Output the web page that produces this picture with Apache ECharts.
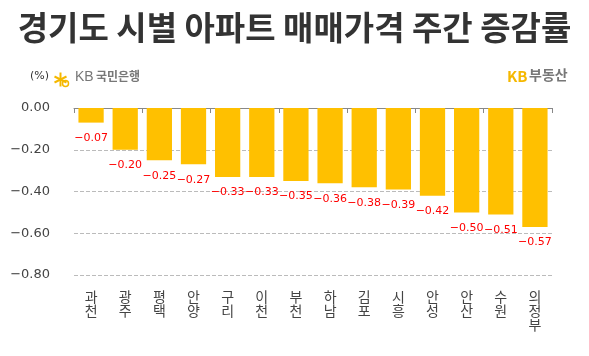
<!DOCTYPE html>
<html><head><meta charset="utf-8">
<script src="https://cdn.jsdelivr.net/npm/echarts@6/dist/echarts.min.js"></script>
<style>html,body{margin:0;padding:0;background:#fff}#c{width:589px;height:356px}</style>
</head><body><div id="c"></div>
<script>
var categories = ['과천','광주','평택','안양','구리','이천','부천','하남','김포','시흥','안성','안산','수원','의정부'];
var values = [-0.07,-0.20,-0.25,-0.27,-0.33,-0.33,-0.35,-0.36,-0.38,-0.39,-0.42,-0.50,-0.51,-0.57];
var yTicks = [0, -0.2, -0.4, -0.6, -0.8];
function fmt(v){ return v.toFixed(2).replace('-', '\u2212'); }
var chart = echarts.init(document.getElementById('c'), null, {renderer:'canvas'});
chart.setOption({
  animation:false,
  title:{text:'경기도 시별 아파트 매매가격 주간 증감률', left:'center', top:6,
    textStyle:{fontFamily:'Noto Sans CJK KR', fontSize:33, fontWeight:'bold', color:'#333'}},
  grid:{left:74, right:37, top:108, bottom:81},
  xAxis:[
    {type:'category', data:categories, position:'bottom',
     axisLine:{show:false, onZero:false}, axisTick:{show:false},
     axisLabel:{margin:15, color:'#444', fontFamily:'Noto Sans CJK KR', fontSize:14, lineHeight:14,
       formatter:function(v){return v.split('').join('\n');}}},
    {type:'category', data:categories, position:'top',
     axisLine:{show:true, lineStyle:{color:'#888', width:1}},
     axisTick:{show:true, inside:true, length:5, lineStyle:{color:'#888'}},
     axisLabel:{show:false}}
  ],
  yAxis:{type:'value', min:-0.8, max:0, interval:0.2,
    axisLine:{show:false}, axisTick:{show:false},
    splitLine:{lineStyle:{type:'dashed', color:'#bbb'}},
    axisLabel:{margin:24, color:'#444', fontFamily:'DejaVu Sans', fontSize:13, formatter:fmt}},
  series:[{type:'bar', data:values, xAxisIndex:0, barWidth:'74%',
    itemStyle:{color:'#FFC000'},
    label:{show:true, position:'bottom', distance:10, color:'#FF0000',
      fontFamily:'DejaVu Sans', fontSize:11, formatter:function(p){return fmt(p.value);}}}],
  graphic:[
    {type:'text', left:30, top:71, style:{text:'(%)', fontFamily:'DejaVu Sans', fontSize:11, fill:'#333'}},
    {type:'group', left:52, top:70, children:[
      {type:'line', shape:{x1:6,y1:0,x2:6,y2:14}, style:{stroke:'#F5B800', lineWidth:2}},
      {type:'line', shape:{x1:0,y1:4,x2:12,y2:10}, style:{stroke:'#F5B800', lineWidth:2}},
      {type:'line', shape:{x1:0,y1:10,x2:12,y2:4}, style:{stroke:'#F5B800', lineWidth:2}},
      {type:'circle', shape:{cx:11,cy:11,r:3}, style:{stroke:'#F5B800', fill:'none', lineWidth:1.5}}
    ]},
    {type:'text', left:75, top:70, style:{text:'KB', fontFamily:'Liberation Sans', fontSize:14, fill:'#777'}},
    {type:'text', left:96, top:70, style:{text:'국민은행', fontFamily:'Noto Sans CJK KR', fontSize:12, fontWeight:'bold', fill:'#777'}},
    {type:'text', left:507, top:69, style:{text:'KB', fontFamily:'Noto Sans CJK KR', fontSize:15, fontWeight:'bold', fill:'#F5B800'}},
    {type:'text', left:529, top:68, style:{text:'부동산', fontFamily:'Noto Sans CJK KR', fontSize:14, fontWeight:'bold', fill:'#777'}}
  ]
});
</script></body></html>
